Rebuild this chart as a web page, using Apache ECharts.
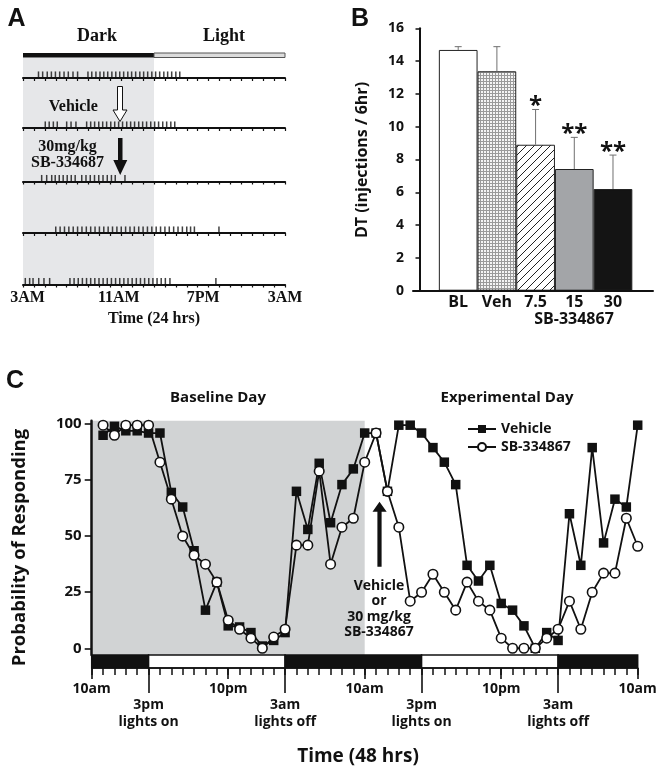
<!DOCTYPE html>
<html><head><meta charset="utf-8">
<script src="https://cdn.jsdelivr.net/npm/echarts@6/dist/echarts.min.js"></script>
<style>html,body{margin:0;padding:0;background:#fff}#c{width:662px;height:775px}</style>
</head><body><div id="c"></div>
<script>
// ---------- Panel A : raster of injections (hours after 3AM) ----------
const rasterRow1 = [1.42,1.8,2.22,2.6,2.97,3.36,3.76,4.15,4.58,5.0,5.95,6.3,6.68,7.05,7.4,7.76,8.14,8.5,8.86,9.22,9.6,9.95,10.32,10.7,11.05,11.42,11.8,12.15,12.52,12.9,13.25,13.62,14.0,14.36];
const rasterRow2 = [2.04,2.4,2.78,3.14,4.0,4.4,4.85,5.83,6.2,6.56,6.94,7.3,7.66,8.04,8.4,8.76,9.12,9.5,9.86,10.22,10.6,10.96,11.32,11.7,12.06,12.42,12.8,13.16,13.54,13.9];
const rasterRow3 = [1.71,2.17,2.63,2.95,3.32,3.68,4.05,4.42,4.78,5.38,5.77,6.16,6.55,6.94,7.33,7.72,8.1,8.45,9.34];
const rasterRow4 = [3.0,3.4,3.8,4.2,4.6,5.0,5.4,5.8,6.2,6.6,7.0,7.4,7.8,8.2,8.6,9.0,9.4,9.8,10.2,10.6,11.0,11.4,11.8,12.2,12.6,13.0,13.4,13.8,14.2,14.6,15.0,15.35,15.7,17.95];
const rasterRow5 = [0.21,0.61,0.92,1.44,1.92,2.44,4.3,4.68,5.06,5.44,5.82,6.2,6.58,6.96,7.34,7.72,8.1,8.48,8.86,9.24,9.62,10.0,10.38,10.76,11.14,11.52,11.9,12.28,12.66,13.04,13.46,17.67];
const rasterRows = [rasterRow1, rasterRow2, rasterRow3, rasterRow4, rasterRow5];
const rasterTickLabels = ['3AM', '11AM', '7PM', '3AM'];
const aPhases = [[0, 12, 1], [12, 24, 0]];      // [start h, end h, dark?]
const aDark = [0, 12];

// ---------- Panel B : DT ----------
const bCategories = ['BL', 'Veh', '7.5', '15', '30'];
const bValues = [14.68, 13.38, 8.9, 7.42, 6.2];
const bErrors = [0.2, 1.5, 2.15, 1.93, 2.07];
const bStars = ['', '', '*', '**', '**'];

// ---------- Panel C : probability of responding ----------
const cHours = [1,2,3,4,5,6,7,8,9,10,11,12,13,14,15,16,17,18,19,20,21,22,23,24,25,26,27,28,29,30,31,32,33,34,35,36,37,38,39,40,41,42,43,44,45,46,47,48];
const cVehicle = [95,99,97,97,96,96,69.5,63,43.5,17,29.5,10,9.5,7,1,3.5,7,70,53,82.5,56,73,80,96,96,70,99.5,99.5,96,89.5,83,73,37,30,37,20,17,10,0,7,3.5,60,37,89.5,47,66.5,63,99.5];
const cSB = [99.5,95,99.5,99.5,99.5,83,66.5,50,41.5,37.5,29.5,12.5,8.5,4.5,0,5,8.5,46,46,79,37.5,54,58,83,96,70,54,21,25,33,25,17,29.5,21,17,4.5,0,0,0,4.5,8.5,21,8.5,25,33.5,33.5,58,45.5];
const cYTicks = [0, 25, 50, 75, 100];
const cMajorTickHours = [0, 12, 24, 36, 48];
const cMajorTickLabels = ['10am', '10pm', '10am', '10pm', '10am'];
const cLightTickHours = [5, 17, 29, 41];
const cLightTickLabels = ['3pm\nlights on', '3am\nlights off', '3pm\nlights on', '3am\nlights off'];
const cPhases = [[0, 5, 1], [5, 17, 0], [17, 29, 1], [29, 41, 0], [41, 48, 1]];
const cBaseline = [0, 24];

// ---------- helpers ----------
const SANS = '"Open Sans", "DejaVu Sans", sans-serif';
const SERIF = '"Liberation Serif", "DejaVu Serif", serif';
const INK = '#111';

function dotPattern() {
  const c = document.createElement('canvas'); c.width = 3; c.height = 3;
  const g = c.getContext('2d');
  g.fillStyle = '#f4f4f4'; g.fillRect(0, 0, 3, 3);
  g.fillStyle = '#9a9a9a'; g.fillRect(0, 0, 3, 1); g.fillRect(0, 0, 1, 3);
  return c;
}
function hatchPattern() {
  const c = document.createElement('canvas'); c.width = 8; c.height = 8;
  const g = c.getContext('2d');
  g.fillStyle = '#fff'; g.fillRect(0, 0, 8, 8);
  g.strokeStyle = '#222'; g.lineWidth = 1;
  g.beginPath();
  g.moveTo(-1, 9); g.lineTo(9, -1);
  g.moveTo(-1, 1); g.lineTo(1, -1);
  g.moveTo(7, 9); g.lineTo(9, 7);
  g.stroke();
  return c;
}
const bFills = ['#ffffff', {image: dotPattern(), repeat: 'repeat'}, {image: hatchPattern(), repeat: 'repeat'}, '#a3a5a8', '#141414'];

const rasterLineY = [78, 128, 181.5, 233, 284.5];
const A_LEFT = 23, A_WIDTH = 262;

const grids = [], xAxes = [], yAxes = [], series = [];

// grid 0: A light/dark bar
grids.push({left: A_LEFT, width: A_WIDTH, top: 53, height: 4.5});
xAxes.push({gridIndex: 0, type: 'value', min: 0, max: 24, show: false});
yAxes.push({gridIndex: 0, type: 'value', min: 0, max: 1, show: false});
series.push({
  type: 'custom', xAxisIndex: 0, yAxisIndex: 0, silent: true,
  data: aPhases,
  renderItem: function (p, api) {
    const a = api.coord([api.value(0), 1]), b = api.coord([api.value(1), 0]);
    const dark = api.value(2) === 1;
    return {type: 'rect', shape: {x: a[0], y: a[1], width: b[0] - a[0], height: b[1] - a[1]},
      style: {fill: dark ? INK : '#dcdcdc', stroke: dark ? INK : '#555', lineWidth: dark ? 0 : 1}};
  }
});
// grid 1: A shading
grids.push({left: A_LEFT, width: A_WIDTH, top: 57.5, height: 227});
xAxes.push({gridIndex: 1, type: 'value', min: 0, max: 24, show: false});
yAxes.push({gridIndex: 1, type: 'value', min: 0, max: 1, show: false});
series.push({
  type: 'line', xAxisIndex: 1, yAxisIndex: 1, silent: true, z: 1, symbol: 'none',
  lineStyle: {opacity: 0}, data: [[0, 0]],
  markArea: {silent: true, itemStyle: {color: '#e6e7e9'}, data: [[{xAxis: aDark[0]}, {xAxis: aDark[1]}]]}
});
// grids 2-6: raster rows
rasterRows.forEach(function (row, k) {
  const gi = grids.length;
  const last = k === rasterRows.length - 1;
  grids.push({left: A_LEFT, width: A_WIDTH, top: rasterLineY[k] - 8, height: 8});
  xAxes.push({
    gridIndex: gi, type: 'value', min: 0, max: 24, interval: 8, z: 5,
    axisLine: {show: true, lineStyle: {color: INK, width: 2}},
    axisTick: {show: true, length: 3, lineStyle: {color: INK, width: 1.2}},
    minorTick: {show: true, splitNumber: 8, length: 3, lineStyle: {color: INK, width: 1.2}},
    splitLine: {show: false}, minorSplitLine: {show: false},
    axisLabel: {
      show: last, margin: 5, showMinLabel: true, showMaxLabel: true,
      color: INK, fontFamily: SERIF, fontWeight: 'bold', fontSize: 16,
      formatter: function (v) { const i = Math.round(v / 8); return '{l' + i + '|' + rasterTickLabels[i] + '}'; },
      rich: {
        l0: {padding: [0, 0, 0, 9], fontFamily: SERIF, fontWeight: 'bold', fontSize: 16, color: INK},
        l1: {padding: [0, 0, 0, 17], fontFamily: SERIF, fontWeight: 'bold', fontSize: 16, color: INK},
        l2: {padding: [0, 0, 0, 11], fontFamily: SERIF, fontWeight: 'bold', fontSize: 16, color: INK},
        l3: {padding: [0, 0, 0, 0], fontFamily: SERIF, fontWeight: 'bold', fontSize: 16, color: INK}
      }
    },
    name: last ? 'Time (24 hrs)' : '', nameLocation: 'middle', nameGap: 26,
    nameTextStyle: {color: INK, fontFamily: SERIF, fontWeight: 'bold', fontSize: 16}
  });
  yAxes.push({gridIndex: gi, type: 'value', min: 0, max: 1, show: false});
  series.push({
    type: 'scatter', xAxisIndex: gi, yAxisIndex: gi, silent: true, clip: false, z: 6,
    symbol: 'rect', symbolSize: [1.5, 6.5], symbolOffset: [0, -3.3],
    itemStyle: {color: INK},
    data: row.map(function (t) { return [t, 0]; })
  });
});

// grid 7: Panel B
grids.push({left: 413, width: 240, top: 28.3, height: 262.4});
xAxes.push({gridIndex: 7, type: 'value', min: -0.168, max: 6.034, z: 5,
  axisLine: {show: true, lineStyle: {color: INK, width: 2}}, axisTick: {show: false},
  axisLabel: {show: false}, splitLine: {show: false}});
yAxes.push({gridIndex: 7, type: 'value', min: 0, max: 16, interval: 2, z: 5,
  axisLine: {show: true, lineStyle: {color: INK, width: 2}},
  axisTick: {show: true, length: 4, lineStyle: {color: INK, width: 1.5}},
  axisLabel: {margin: 9, color: INK, fontFamily: SANS, fontWeight: 'bold', fontSize: 14},
  splitLine: {show: false}});
series.push({
  type: 'bar', xAxisIndex: 7, yAxisIndex: 7, barWidth: 38.7, silent: true, z: 3,
  data: bValues.map(function (v, i) { return {value: [i + 1, v], itemStyle: {color: bFills[i], borderColor: '#222', borderWidth: 1}}; }),
  label: {show: true, position: 'bottom', distance: 4, color: INK, fontFamily: SANS, fontWeight: 'bold', fontSize: 16,
    formatter: function (p) { return bCategories[p.dataIndex]; }}
});
series.push({
  type: 'custom', xAxisIndex: 7, yAxisIndex: 7, silent: true, z: 4,
  data: bValues.map(function (v, i) { return [i + 1, v, bErrors[i], i]; }),
  renderItem: function (p, api) {
    const x = api.value(0), v = api.value(1), e = api.value(2), i = api.value(3);
    const p0 = api.coord([x, v]), p1 = api.coord([x, v + e]);
    return {type: 'group', children: [
      {type: 'line', shape: {x1: p0[0], y1: p0[1], x2: p1[0], y2: p1[1]}, style: {stroke: '#707070', lineWidth: 1}},
      {type: 'line', shape: {x1: p1[0] - 3.5, y1: p1[1], x2: p1[0] + 3.5, y2: p1[1]}, style: {stroke: '#707070', lineWidth: 1}},
      {type: 'text', style: {text: bStars[i], x: p1[0], y: p1[1] - 3, align: 'center', verticalAlign: 'middle',
        fontFamily: SANS, fontWeight: 'bold', fontSize: 24, fill: INK}}
    ]};
  }
});

// grid 8: Panel C main
grids.push({left: 91.7, width: 546, top: 420.7, height: 234.3});
xAxes.push({gridIndex: 8, type: 'value', min: 0, max: 48, show: false});
yAxes.push({gridIndex: 8, type: 'value', min: -3, max: 101.5, z: 5,
  axisLine: {show: true, lineStyle: {color: INK, width: 2.5}},
  axisTick: {show: true, length: 7, customValues: cYTicks, lineStyle: {color: INK, width: 1.6}},
  axisLabel: {customValues: cYTicks, margin: 10, color: INK, fontFamily: SANS, fontWeight: 'bold', fontSize: 15},
  splitLine: {show: false}});
series.push({
  type: 'line', xAxisIndex: 8, yAxisIndex: 8, silent: true, z: 1, symbol: 'none',
  lineStyle: {opacity: 0}, data: [[0, 0]],
  markArea: {silent: true, itemStyle: {color: '#d1d3d4'}, data: [[{xAxis: cBaseline[0]}, {xAxis: cBaseline[1]}]]}
});
series.push({
  name: 'Vehicle', type: 'line', xAxisIndex: 8, yAxisIndex: 8, z: 3, silent: true,
  symbol: 'rect', symbolSize: 9.5, itemStyle: {color: INK}, lineStyle: {color: INK, width: 1.8},
  data: cHours.map(function (h, i) { return [h, cVehicle[i]]; })
});
series.push({
  name: 'SB-334867', type: 'line', xAxisIndex: 8, yAxisIndex: 8, z: 4, silent: true,
  symbol: 'circle', symbolSize: 9.5, itemStyle: {color: '#fff', borderColor: INK, borderWidth: 1.6},
  lineStyle: {color: INK, width: 1.8},
  data: cHours.map(function (h, i) { return [h, cSB[i]]; })
});

// grid 9: Panel C light/dark bar + time axis
grids.push({left: 91.7, width: 546, top: 655, height: 13});
const cAxisHours = [];
for (let h = 0; h <= 48; h++) cAxisHours.push(String(h));
xAxes.push({gridIndex: 9, type: 'value', min: 0, max: 48, show: false});
xAxes.push({gridIndex: 9, type: 'category', data: cAxisHours, boundaryGap: false, position: 'bottom', z: 5,
  axisLine: {show: true, lineStyle: {color: INK, width: 1.6}},
  axisTick: {show: true, interval: 0, length: 7, lineStyle: {color: INK, width: 1.5}},
  axisLabel: {show: false}});
xAxes.push({gridIndex: 9, type: 'category', data: cAxisHours, boundaryGap: false, position: 'bottom', z: 5,
  axisLine: {show: false},
  axisTick: {show: true, length: 11, lineStyle: {color: INK, width: 1.6},
    interval: function (i) { return cMajorTickHours.indexOf(i) >= 0; }},
  axisLabel: {show: true, margin: 14, color: INK, fontFamily: SANS, fontWeight: 'bold', fontSize: 14,
    interval: function (i) { return cMajorTickHours.indexOf(i) >= 0; },
    formatter: function (v) { const k = cMajorTickHours.indexOf(+v); return k >= 0 ? cMajorTickLabels[k] : ''; }}});
xAxes.push({gridIndex: 9, type: 'category', data: cAxisHours, boundaryGap: false, position: 'bottom', z: 5,
  axisLine: {show: false},
  axisTick: {show: true, length: 25, lineStyle: {color: INK, width: 1.6},
    interval: function (i) { return cLightTickHours.indexOf(i) >= 0; }},
  axisLabel: {show: true, margin: 29, color: INK, fontFamily: SANS, fontWeight: 'bold', fontSize: 14, lineHeight: 17,
    interval: function (i) { return cLightTickHours.indexOf(i) >= 0; },
    formatter: function (v) { const k = cLightTickHours.indexOf(+v); return k >= 0 ? cLightTickLabels[k] : ''; }}});
yAxes.push({gridIndex: 9, type: 'value', min: 0, max: 1, show: false});
series.push({
  type: 'custom', xAxisIndex: 9, yAxisIndex: 9, silent: true, z: 2,
  data: cPhases,
  renderItem: function (p, api) {
    const a = api.coord([api.value(0), 1]), b = api.coord([api.value(1), 0]);
    return {type: 'rect', shape: {x: a[0], y: a[1], width: b[0] - a[0], height: b[1] - a[1]},
      style: {fill: api.value(2) === 1 ? INK : '#fff', stroke: INK, lineWidth: 1.5}};
  }
});

function txt(x, y, s, size, opts) {
  opts = opts || {};
  return {type: 'text', x: x, y: y, rotation: opts.rot || 0, z: 20, silent: true,
    style: {text: s, fill: INK, align: 'center', verticalAlign: 'middle', lineHeight: opts.lh,
      fontFamily: opts.font || SANS, fontWeight: 'bold', fontSize: size}};
}
const graphics = [
  txt(16.5, 19, 'A', 25, {font: '"Liberation Sans", Arial, sans-serif'}),
  txt(360, 19, 'B', 25, {font: '"Liberation Sans", Arial, sans-serif'}),
  txt(15, 381, 'C', 25, {font: '"Liberation Sans", Arial, sans-serif'}),
  txt(97, 36, 'Dark', 18, {font: SERIF}),
  txt(224, 36, 'Light', 18, {font: SERIF}),
  txt(73.3, 106.7, 'Vehicle', 16, {font: SERIF}),
  txt(67.5, 146.7, '30mg/kg', 16, {font: SERIF}),
  txt(67.5, 163.3, 'SB-334687', 16, {font: SERIF}),
  // open arrow (vehicle)
  {type: 'polygon', z: 20, silent: true, shape: {points: [[117.5, 86.5], [122.5, 86.5], [122.5, 110], [127, 110], [120, 121.5], [113, 110], [117.5, 110]]},
    style: {fill: '#fff', stroke: INK, lineWidth: 1}},
  // filled arrow (drug)
  {type: 'polygon', z: 20, silent: true, shape: {points: [[118, 138], [122.5, 138], [122.5, 160], [127.3, 160], [120.2, 175], [113.3, 160], [118, 160]]},
    style: {fill: INK}},
  txt(362.5, 160, 'DT (injections / 6hr)', 16, {rot: Math.PI / 2}),
  txt(574, 319, 'SB-334867', 16),
  txt(218, 398, 'Baseline Day', 15),
  txt(507, 398, 'Experimental Day', 15),
  txt(20, 547.5, 'Probability of Responding', 18.5, {rot: Math.PI / 2}),
  txt(358, 757, 'Time (48 hrs)', 19),
  {type: 'polygon', z: 20, silent: true, shape: {points: [[377.4, 566.7], [381.6, 566.7], [381.6, 511.7], [386.7, 511.7], [379.5, 501.7], [372.5, 511.7], [377.4, 511.7]]},
    style: {fill: INK}},
  txt(379, 609, 'Vehicle\nor\n30 mg/kg\nSB-334867', 14, {lh: 15.5})
];

const chart = echarts.init(document.getElementById('c'), null, {renderer: 'canvas', width: 662, height: 775});
chart.setOption({
  animation: false,
  backgroundColor: '#fff',
  textStyle: {fontFamily: SANS},
  grid: grids, xAxis: xAxes, yAxis: yAxes, series: series,
  legend: {data: ['Vehicle', 'SB-334867'], orient: 'vertical', left: 462, top: 416, itemWidth: 28, itemHeight: 10, itemGap: 2,
    selectedMode: false, textStyle: {color: INK, fontFamily: SANS, fontWeight: 'bold', fontSize: 14, lineHeight: 16}},
  graphic: graphics
});
</script></body></html>
